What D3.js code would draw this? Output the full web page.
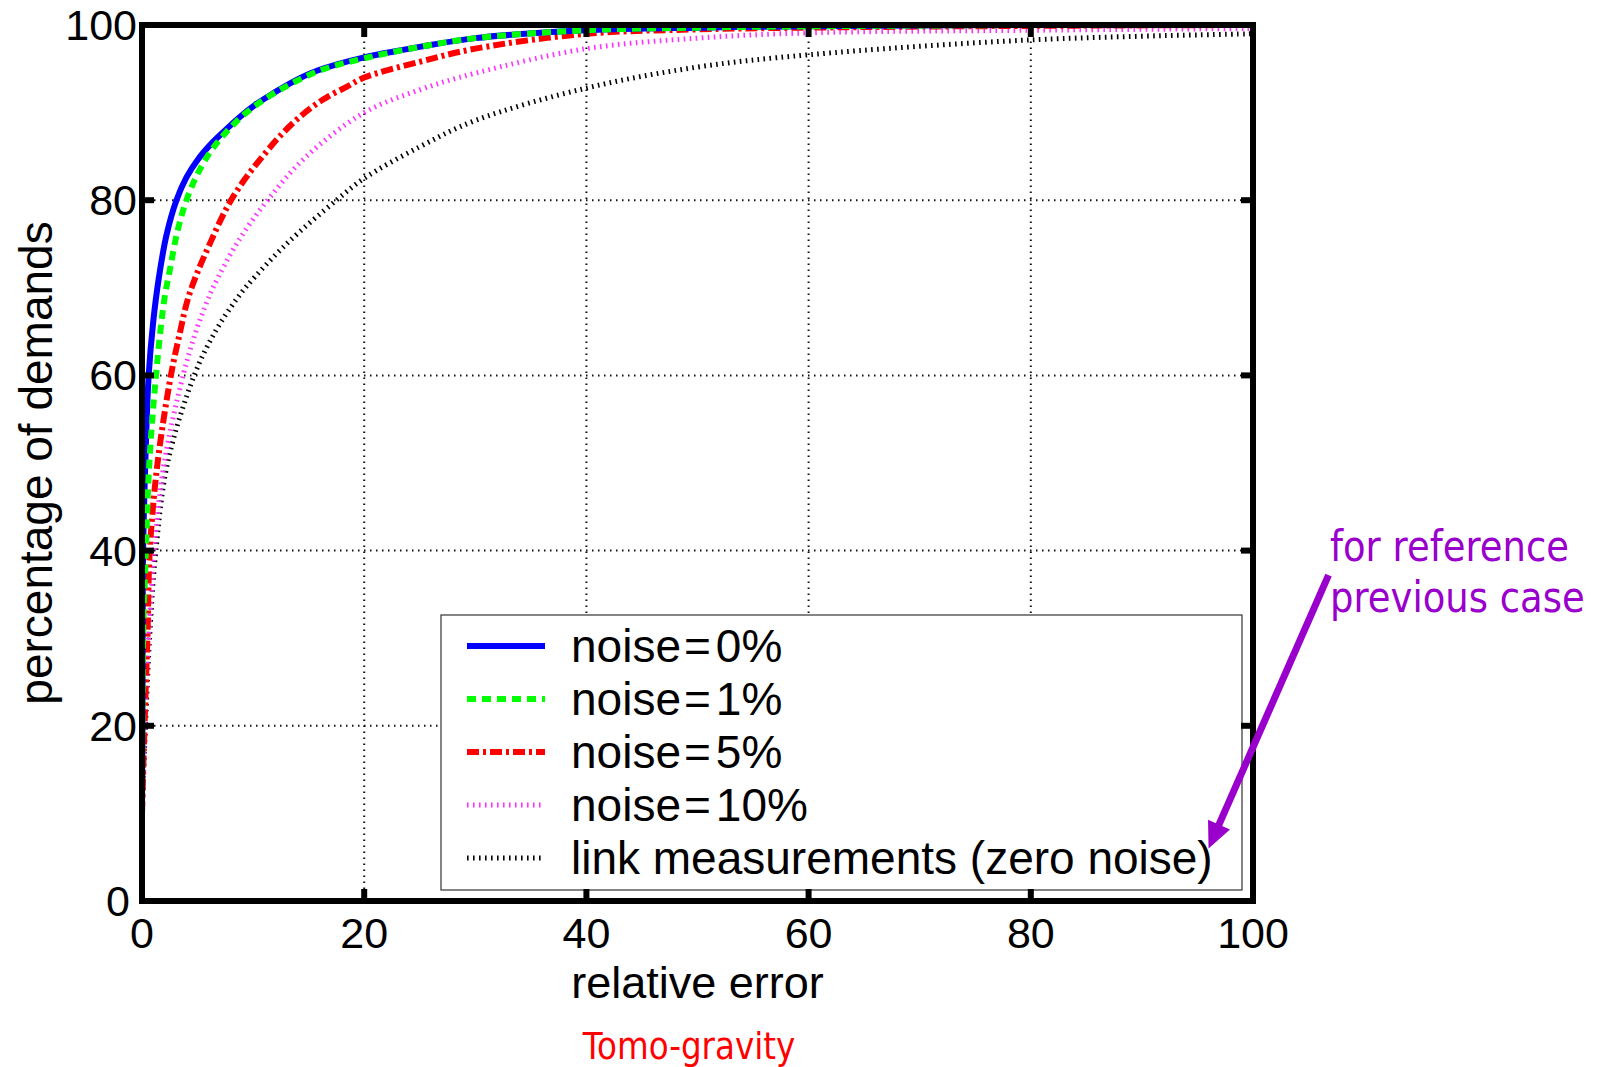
<!DOCTYPE html>
<html>
<head>
<meta charset="utf-8">
<script src="https://cdn.jsdelivr.net/npm/d3@7"></script>
<style>
  body { margin: 0; background: #fff; }
  svg { display: block; }
</style>
</head>
<body>
<div class="svg-container"></div>
<script>
// values: [relative error, percentage of demands]
const seriesNames = ["noise=0%", "noise=1%", "noise=5%", "noise=10%", "link measurements (zero noise)"];
const noise0 = [[0,10],[0.05,25],[0.1,40],[0.3,50],[0.6,60],[1.0,66],[1.5,71],[2.2,76],[3.1,80],[4.0,82.6],[5.0,84.6],[6.2,86.4],[7.5,88],[8.8,89.5],[10.2,90.9],[11.8,92.2],[13.7,93.6],[15.8,94.8],[20,96.3],[25,97.5],[30,98.5],[40,99.4],[50,99.7],[60,99.85],[80,100],[100,100]];
const noise1 = [[0,10],[0.1,30],[0.35,40],[0.66,50],[1.26,60],[2.0,68.6],[2.5,72],[3.2,76.5],[4.0,80],[5.0,83],[6.2,85.6],[7.6,87.8],[9.4,90],[12,92.3],[16,94.8],[20,96.2],[25,97.5],[30,98.5],[40,99.4],[50,99.7],[60,99.85],[80,100],[100,100]];
const noise5 = [[0,10],[0.3,23],[0.5,30.5],[0.7,40],[1.4,50],[2.6,60],[3.4,64.8],[4.1,68.6],[5.0,71.8],[6.2,75.3],[7.7,79.3],[9.2,82.3],[10.6,84.6],[12.4,87.3],[14.2,89.5],[16.3,91.5],[18.5,93],[20,94],[25,95.8],[30,97.3],[40,99.0],[50,99.5],[60,99.7],[80,99.9],[100,100]];
const noise10 = [[0,10],[0.4,25],[1.1,40],[2.0,50],[3.7,60],[4.8,64.8],[5.9,68.6],[6.5,70.3],[8.5,75],[11.3,80],[14.8,85],[20,90],[25,92.6],[30,94.5],[40,97.3],[50,98.5],[60,99.1],[80,99.4],[100,99.6]];
const linkMeas = [[0,10],[0.7,30.5],[1.25,40],[2.3,50],[4.7,60],[6.5,64.8],[8.45,68.6],[9.5,70.3],[13,75],[17.5,80],[20,82.5],[25,86.1],[30,89.1],[40,92.8],[50,95.2],[60,96.6],[80,98.3],[100,99.0]];
const xTicks = [0, 20, 40, 60, 80, 100];
const yTicks = [0, 20, 40, 60, 80, 100];
const noteLines = ["for reference", "previous case"];
const subTitle = "Tomo-gravity";

let chart = {
  width: 1602,
  height: 1067,
  plot: { left: 142, right: 1253, top: 25, bottom: 901 },
  font: '"Liberation Sans", Arial, Helvetica, sans-serif',
  purple: '#9900cc',
  styles: [
    { color: '#0000ff', width: 6, dash: null },
    { color: '#00ff00', width: 6, dash: '9,6' },
    { color: '#ff0000', width: 6, dash: '12,4,3,4' },
    { color: '#ff33ff', width: 5, dash: '1.6,4.4' },
    { color: '#000000', width: 5, dash: '1.6,4.4' }
  ],
  makeBoard(){
    const p = chart.plot;
    const svg = d3.select('.svg-container').append('svg')
      .attr('width', chart.width)
      .attr('height', chart.height);

    const x = d3.scaleLinear().domain([0, 100]).range([p.left, p.right]);
    const y = d3.scaleLinear().domain([0, 100]).range([p.bottom, p.top]);

    // grid
    const grid = svg.append('g')
      .attr('stroke', '#111')
      .attr('stroke-width', 2)
      .attr('stroke-dasharray', '1.5,4.5');
    grid.selectAll('line.gx').data(xTicks.slice(1, -1)).join('line')
      .attr('x1', d => x(d)).attr('x2', d => x(d))
      .attr('y1', p.bottom).attr('y2', p.top);
    grid.selectAll('line.gy').data(yTicks.slice(1, -1)).join('line')
      .attr('y1', d => y(d)).attr('y2', d => y(d))
      .attr('x1', p.left).attr('x2', p.right);

    // curves
    const line = d3.line()
      .x(d => x(d[0]))
      .y(d => y(d[1]))
      .curve(d3.curveCatmullRom.alpha(0.5));
    const data = [noise0, noise1, noise5, noise10, linkMeas];
    svg.append('clipPath').attr('id', 'clip')
      .append('rect')
      .attr('x', p.left).attr('y', p.top - 4)
      .attr('width', p.right - p.left).attr('height', p.bottom - p.top + 4);
    const curves = svg.append('g').attr('clip-path', 'url(#clip)');
    // draw back to front so the blue one sits under green like the original
    [4, 3, 2, 0, 1].forEach(i => {
      const s = chart.styles[i];
      curves.append('path')
        .datum(data[i])
        .attr('d', line)
        .attr('fill', 'none')
        .attr('stroke', s.color)
        .attr('stroke-width', s.width)
        .attr('stroke-dasharray', s.dash);
    });

    // legend
    const lg = svg.append('g');
    lg.append('rect')
      .attr('x', 441).attr('y', 615)
      .attr('width', 801).attr('height', 275)
      .attr('fill', '#fff')
      .attr('stroke', '#333')
      .attr('stroke-width', 1.2);
    seriesNames.forEach((name, i) => {
      const s = chart.styles[i];
      const yy = 646 + i * 53;
      lg.append('line')
        .attr('x1', 467).attr('x2', 545)
        .attr('y1', yy).attr('y2', yy)
        .attr('stroke', s.color)
        .attr('stroke-width', s.width)
        .attr('stroke-dasharray', s.dash);
      const t = lg.append('text')
        .attr('x', 571).attr('y', yy + 16)
        .attr('font-family', chart.font)
        .attr('font-size', 46);
      const eq = name.indexOf('=');
      if (eq > 0) {
        // the original sets the "=" with a little room on both sides
        t.append('tspan').text(name.slice(0, eq));
        t.append('tspan').attr('dx', 3).text('=');
        t.append('tspan').attr('dx', 5).text(name.slice(eq + 1));
      } else {
        t.text(name);
      }
    });

    // box and ticks
    svg.append('rect')
      .attr('x', p.left).attr('y', p.top)
      .attr('width', p.right - p.left).attr('height', p.bottom - p.top)
      .attr('fill', 'none')
      .attr('stroke', '#000')
      .attr('stroke-width', 6);
    const tk = svg.append('g').attr('stroke', '#000').attr('stroke-width', 6);
    xTicks.forEach(d => {
      tk.append('line').attr('x1', x(d)).attr('x2', x(d)).attr('y1', p.bottom).attr('y2', p.bottom - 12);
      tk.append('line').attr('x1', x(d)).attr('x2', x(d)).attr('y1', p.top).attr('y2', p.top + 12);
    });
    yTicks.forEach(d => {
      tk.append('line').attr('y1', y(d)).attr('y2', y(d)).attr('x1', p.left).attr('x2', p.left + 12);
      tk.append('line').attr('y1', y(d)).attr('y2', y(d)).attr('x1', p.right).attr('x2', p.right - 12);
    });

    // tick labels
    svg.append('g').selectAll('text').data(xTicks).join('text')
      .attr('x', d => x(d)).attr('y', 948)
      .attr('text-anchor', 'middle')
      .attr('font-family', chart.font).attr('font-size', 43)
      .text(d => d);
    // the "0" sits a touch further left so it clears the x axis "0"
    svg.append('g').selectAll('text').data(yTicks).join('text')
      .attr('x', d => d === 0 ? 130 : 137).attr('y', d => y(d) + 15)
      .attr('text-anchor', 'end')
      .attr('font-family', chart.font).attr('font-size', 43)
      .text(d => d);

    // axis titles
    svg.append('text')
      .attr('x', (p.left + p.right) / 2).attr('y', 998)
      .attr('text-anchor', 'middle')
      .attr('font-family', chart.font).attr('font-size', 45)
      .text('relative error');
    svg.append('text')
      .attr('transform', 'translate(' + 52 + ',' + (p.top + p.bottom) / 2 + ') rotate(-90)')
      .attr('text-anchor', 'middle')
      .attr('font-family', chart.font).attr('font-size', 46)
      .text('percentage of demands');

    // red caption under the chart
    svg.append('text')
      .attr('transform', 'translate(689,1059) scale(0.88,1)')
      .attr('text-anchor', 'middle')
      .attr('font-family', '"DejaVu Sans", Verdana, sans-serif')
      .attr('font-size', 37)
      .attr('fill', '#ff0000')
      .text(subTitle);

    // purple note + arrow
    noteLines.forEach((t, i) => {
      svg.append('text')
        .attr('transform', 'translate(1330,' + (561 + i * 51) + ') scale(0.88,1)')
        .attr('font-family', '"DejaVu Sans", Verdana, sans-serif')
        .attr('font-size', 42)
        .attr('fill', chart.purple)
        .text(t);
    });
    const from = [x(106.8), y(37.2)], to = [x(96.0), y(6.0)];
    const dx = to[0] - from[0], dy = to[1] - from[1];
    const len = Math.sqrt(dx * dx + dy * dy);
    const ux = dx / len, uy = dy / len;
    const headLen = 26, headHalf = 12;
    const bx = to[0] - ux * headLen, by = to[1] - uy * headLen;
    svg.append('line')
      .attr('x1', from[0]).attr('y1', from[1])
      .attr('x2', bx + ux * 2).attr('y2', by + uy * 2)
      .attr('stroke', chart.purple)
      .attr('stroke-width', 7);
    svg.append('polygon')
      .attr('points', [
        [to[0], to[1]],
        [bx - uy * headHalf, by + ux * headHalf],
        [bx + uy * headHalf, by - ux * headHalf]
      ].map(pt => pt.join(',')).join(' '))
      .attr('fill', chart.purple);
  }
};

document.addEventListener('DOMContentLoaded', function(event) {
  chart.makeBoard();
});
</script>
</body>
</html>
